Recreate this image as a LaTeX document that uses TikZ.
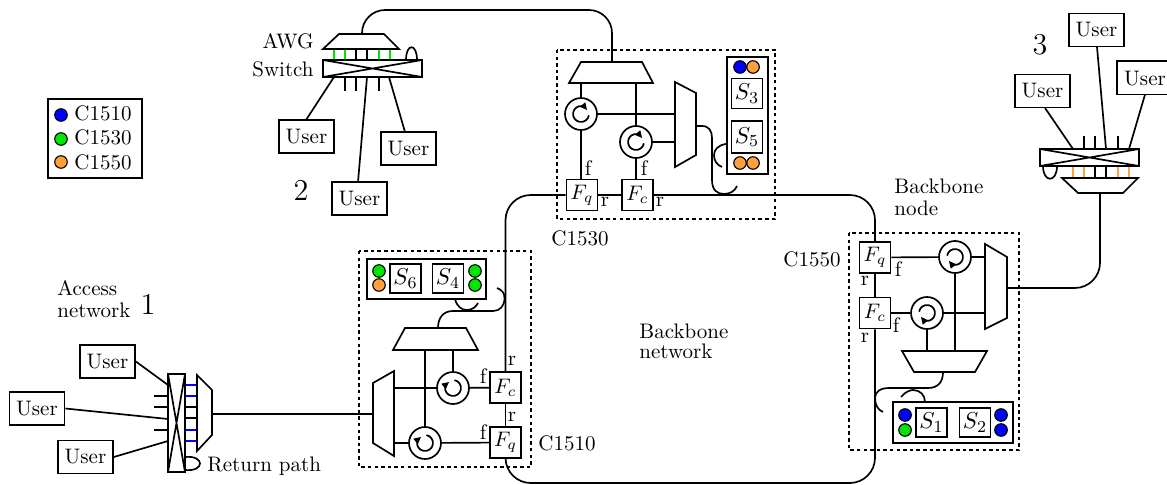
\documentclass[tikz,border=0pt]{standalone}
\newcommand{\uu}{0.47619pt}
\tikzset{
  x=\uu,y=-\uu,
  base/.style={line width=0.8pt,line join=miter},
  txt/.style={inner sep=0pt},
  bignum/.style={inner sep=0pt,font=\Large},
  userbox/.style={draw,base,fill=white,minimum width=55*\uu,minimum height=33*\uu,inner sep=0pt},
  fbox/.style={draw,base,fill=white,minimum width=31*\uu,minimum height=31*\uu,inner sep=0pt},
  sbox/.style={draw,base,fill=white,minimum width=31*\uu,minimum height=30*\uu,inner sep=0pt,font=\fontsize{11}{13}\selectfont},
  circnode/.style={draw,base,fill=white,circle,minimum size=32*\uu,inner sep=0pt},
  dot/.style={draw,line width=0.55pt,circle,minimum size=12.5*\uu,inner sep=0pt},
  dashbox/.style={draw,line width=0.7pt,dash pattern=on 1.65pt off 1.5pt},
  trap/.style={draw,base,fill=white},
  panel/.style={draw,base,fill=white},
  port/.style={line width=0.8pt},
  lab/.style={inner sep=0pt}
}
\definecolor{cblue}{RGB}{0,0,255}
\definecolor{cgreen}{RGB}{0,230,0}
\definecolor{corange}{RGB}{255,160,60}
\newcommand{\circu}[4]{%
  \node[circnode] (#1) at (#2,#3) {};
  \begin{scope}[shift={(#2,#3)},rotate=#4]
    \draw[base] (10:8) arc[start angle=10,end angle=280,radius=8];
    \fill (4.3,-11.7) -- (-1.3,-7.3) -- (6,-4) -- cycle;
  \end{scope}}
\begin{document}
\begin{tikzpicture}
\useasboundingbox (0,0) rectangle (1167,485);
% legend
\node[panel,minimum width=94*\uu,minimum height=79*\uu] (legend) at (95,138.5) {};
\node[dot,fill=cblue] (l1) at (61,115) {};
\node[dot,fill=cgreen] (l2) at (61,139) {};
\node[dot,fill=corange] (l3) at (61,162) {};
\node[txt,anchor=base west] (lt1) at (74,121) {C1510};
\node[txt,anchor=base west] (lt2) at (74,145) {C1530};
\node[txt,anchor=base west] (lt3) at (74,169) {C1550};
% dashed boxes
\draw[dashbox] (557,50) rectangle (775,219);
\draw[dashbox] (359,251) rectangle (531,467);
\draw[dashbox] (849,233) rectangle (1019,450);
% ===== access network
\node[txt,anchor=base west] (acc1) at (57,295) {Access};
\node[txt,anchor=base west] (acc2) at (57,317) {network};
\node[bignum,anchor=base] (n1) at (148,314) {1};
\node[userbox] (ua) at (107.5,361.5) {User};
\node[userbox] (ub) at (37,408.5) {User};
\node[userbox] (uc) at (85.5,457) {User};
\coordinate (asw1) at (168,385);
\coordinate (asw2) at (168,419);
\coordinate (asw3) at (168,441);
\draw[base] (ua.east) -- (asw1);
\draw[base] (ub.east) -- (asw2);
\draw[base] (uc.east) -- (asw3);
\foreach \yy in {396,407,430} \draw[port] (154,\yy) -- (168,\yy);
\foreach \yy/\cc in {385/cblue,396/cblue,407/black,418/black,430/cblue,441/cblue} \draw[port,\cc] (185,\yy) -- (197,\yy);
\draw[base] (185,457) .. controls (205,455) and (205,472) .. (185,470);
\draw[trap] (168,374) rectangle (185,472);
\draw[base] (168,374) -- (185,472) (185,374) -- (168,472);
\draw[trap] (197,375) -- (212,390) -- (212,435) -- (197,451) -- cycle;
\node[txt,anchor=base west] (ret) at (207,471) {Return path};
\coordinate (amux) at (212,414);
\coordinate (m10in) at (373,414);
\draw[base] (amux) -- (m10in);
% ===== node 2
\node[txt,anchor=base east] (awg) at (314,49) {AWG};
\node[txt,anchor=base east] (swt) at (314,77) {Switch};
\node[bignum,anchor=base] (n2) at (301,201) {2};
\node[userbox] (ud) at (306.5,136.5) {User};
\node[userbox] (ue) at (359.5,198.5) {User};
\node[userbox] (uf) at (408.5,148.5) {User};
\coordinate (s2a) at (334,77);
\coordinate (s2b) at (367,77);
\coordinate (s2c) at (389,77);
\coordinate (ufn) at (405,132);
\coordinate (udn) at (306,120);
\coordinate (uen) at (358,182);
\draw[base] (s2a) -- (udn);
\draw[base] (s2b) -- (uen);
\draw[base] (s2c) -- (ufn);
\foreach \xx/\cc in {334/cgreen,345/cgreen,356/black,367/black,379/cgreen,390/cgreen} \draw[port,\cc] (\xx,49) -- (\xx,60);
\foreach \xx in {345,356,379} \draw[port] (\xx,77) -- (\xx,91);
\draw[base] (406,60) .. controls (406,43) and (417,43) .. (417,60);
\draw[trap] (339,34) -- (384,34) -- (399,49) -- (323,49) -- cycle;
\draw[trap] (323,60) rectangle (422,77);
\draw[base] (323,60) -- (422,77) (422,60) -- (323,77);
\coordinate (awgout) at (362,34);
\coordinate (t30in) at (612,62);
\coordinate (fa) at (362,10);
\coordinate (fb) at (612,10);
\draw[base,rounded corners=11pt] (awgout) -- (fa) -- (fb) -- (t30in);
% ===== node 3
\node[bignum,anchor=base] (n3) at (1040,55) {3};
\node[userbox] (ug) at (1042.5,91) {User};
\node[userbox] (uh) at (1096.5,30) {User};
\draw[base,fill=white] (1169,61) -- (1117,61) -- (1117,94.5) -- (1169,94.5);
\node[txt] (ui) at (1145,79) {User};
\coordinate (s3a) at (1073,149);
\coordinate (s3b) at (1106,149);
\coordinate (s3c) at (1129,149);
\coordinate (uib) at (1145,94.5);
\coordinate (ugs) at (1045,108);
\coordinate (uhs) at (1097,47);
\draw[base] (ugs) -- (s3a);
\draw[base] (uhs) -- (s3b);
\draw[base] (uib) -- (s3c);
\foreach \xx/\cc in {1073/corange,1084/corange,1095/black,1106/black,1118/corange,1129/corange} \draw[port,\cc] (\xx,166) -- (\xx,178);
\foreach \xx in {1084,1095,1118} \draw[port] (\xx,136) -- (\xx,149);
\draw[base] (1043,166) .. controls (1043,183) and (1057,183) .. (1057,166);
\draw[trap] (1040,149) rectangle (1139,166);
\draw[base] (1040,149) -- (1139,166) (1139,149) -- (1040,166);
\draw[trap] (1062,178) -- (1138,178) -- (1123,193) -- (1078,193) -- cycle;
% ===== C1510
\node[fbox] (fc10) at (505.5,387.5) {$F_c$};
\node[fbox] (fq10) at (505.5,442.5) {$F_q$};
\circu{c10a}{453}{388}{90}
\circu{c10b}{425}{443}{90}
\draw[base] (c10a) -- (fc10);
\draw[base] (c10b) -- (fq10);
\draw[base] (fc10) -- (fq10);
\coordinate (m10a) at (394,388);
\coordinate (m10b) at (394,443);
\draw[base] (m10a) -- (c10a);
\draw[base] (m10b) -- (c10b);
\coordinate (t10a) at (425,350);
\coordinate (t10b) at (453,350);
\draw[base] (t10a) -- (c10b);
\draw[base] (t10b) -- (c10a);
\draw[trap] (405,328) -- (466,328) -- (478,350) -- (393,350) -- cycle;
\draw[trap] (373,383) -- (394,371) -- (394,456) -- (373,443) -- cycle;
\node[panel,minimum width=119*\uu,minimum height=40*\uu] (p10) at (426.5,279) {};
\node[dot,fill=cgreen] (d1) at (379,271) {};
\node[dot,fill=corange] (d2) at (379,285) {};
\node[sbox,minimum height=29*\uu] (s6) at (405.5,278.5) {$S_6$};
\node[sbox,minimum height=29*\uu] (s4) at (448,278.5) {$S_4$};
\node[dot,fill=cgreen] (d3) at (475,271) {};
\node[dot,fill=cgreen] (d4) at (475,285) {};
\draw[base] (455,299) .. controls (457,307) and (462,310) .. (467,310) .. controls (472,310) and (476,307) .. (478,303);
\draw[base] (497,288) .. controls (502,290) and (504.5,293) .. (504.5,298) .. controls (504.5,306) and (500,311) .. (493,311) -- (453,311) .. controls (443,311) and (438,318) .. (438,328);
\node[lab] (f10a) at (483,376) {f};
\node[lab] (r10a) at (512,361) {r};
\node[lab] (r10b) at (512,417) {r};
\node[lab] (f10b) at (483,432) {f};
\node[txt,anchor=base west] (t1510) at (538,450) {C1510};
% ===== C1530
\node[fbox] (fq30) at (582,195) {$F_q$};
\node[fbox] (fc30) at (637.5,195) {$F_c$};
\circu{c30a}{581}{114}{0}
\circu{c30b}{636}{142}{0}
\coordinate (t30a) at (581,83);
\coordinate (t30b) at (636,83);
\draw[base] (t30a) -- (c30a);
\draw[base] (t30b) -- (c30b);
\draw[base] (c30a) -- (c30a |- fq30.north);
\draw[base] (c30b) -- (c30b |- fc30.north);
\draw[base] (fq30) -- (fc30);
\coordinate (m30a) at (675,114);
\coordinate (m30b) at (675,142);
\draw[base] (c30a) -- (m30a);
\draw[base] (c30b) -- (m30b);
\draw[trap] (581,62) -- (642,62) -- (653,83) -- (569,83) -- cycle;
\draw[trap] (675,82) -- (696,93) -- (696,155) -- (675,167) -- cycle;
\node[panel,minimum width=41*\uu,minimum height=117*\uu] (p30) at (747.5,115.5) {};
\node[dot,fill=cblue] (d5) at (740,67) {};
\node[dot,fill=corange] (d6) at (753,67) {};
\node[sbox] (s3) at (747,93.5) {$S_3$};
\node[sbox,minimum height=32*\uu] (s5) at (747,137) {$S_5$};
\node[dot,fill=corange] (d7) at (740,163) {};
\node[dot,fill=corange] (d8) at (753,163) {};
\draw[base] (696,126) -- (702,126) .. controls (709,126) and (712,131) .. (712,138) -- (712,180) .. controls (712,190) and (717,194) .. (724,194) .. controls (730,194) and (735,191) .. (737,186);
\draw[base] (726,144) .. controls (718,145) and (714,150) .. (714,155) .. controls (714,161) and (717,165) .. (722,167);
\node[lab] (f30a) at (588,168) {f};
\node[lab] (f30b) at (644,168) {f};
\node[lab] (r30a) at (605,202) {r};
\node[lab] (r30b) at (660,202) {r};
\node[txt,anchor=base west] (t1530) at (551,245) {C1530};
% ===== backbone
\coordinate (ca) at (505.5,195);
\coordinate (cb) at (875,195);
\coordinate (cc) at (505.5,483);
\coordinate (cd) at (875,483);
\node[fbox] (fq50) at (875,257.5) {$F_q$};
\node[fbox] (fc50) at (875,313) {$F_c$};
\draw[base,rounded corners=12pt] (fq30.west) -- (ca) -- (fc10.north);
\draw[base,rounded corners=12pt] (fc30.east) -- (cb) -- (fq50.north);
\draw[base,rounded corners=12pt] (fq10.south) -- (cc) -- (cd) -- (fc50.south);
\draw[base] (fq50) -- (fc50);
\node[txt,anchor=base west] (bb1) at (639,338) {Backbone};
\node[txt,anchor=base west] (bb2) at (639,358) {network};
\node[txt,anchor=base west] (bn1) at (894,194) {Backbone};
\node[txt,anchor=base west] (bn2) at (894,215) {node};
% ===== C1550
\node[txt,anchor=base west] (t1550) at (783,266) {C1550};
\circu{c50a}{955}{257}{180}
\circu{c50b}{927}{313}{180}
\draw[base] (fq50) -- (c50a);
\draw[base] (fc50) -- (c50b);
\coordinate (m50a) at (985,257);
\coordinate (m50b) at (985,313);
\draw[base] (c50a) -- (m50a);
\draw[base] (c50b) -- (m50b);
\coordinate (t50a) at (955,351);
\coordinate (t50b) at (927,351);
\draw[base] (c50a) -- (t50a);
\draw[base] (c50b) -- (t50b);
\draw[trap] (985,244) -- (1007,257) -- (1007,318) -- (985,329) -- cycle;
\draw[trap] (902,351) -- (987,351) -- (975,372) -- (914,372) -- cycle;
\node[panel,minimum width=120*\uu,minimum height=41*\uu] (p50) at (953,422.5) {};
\node[dot,fill=cblue] (d9) at (905,415) {};
\node[dot,fill=cgreen] (d10) at (905,430) {};
\node[sbox,minimum height=29*\uu] (s1) at (931.5,422.5) {$S_1$};
\node[sbox,minimum height=29*\uu] (s2) at (975,422.5) {$S_2$};
\node[dot,fill=cblue] (d11) at (1001,415) {};
\node[dot,fill=cblue] (d12) at (1001,430) {};
\draw[base] (943,372) .. controls (943,382) and (938,388) .. (928,388) -- (889,388) .. controls (880,388) and (875,392) .. (875,398) .. controls (875,405) and (878,410) .. (883,412);
\draw[base] (901,397) .. controls (905,392) and (910,390) .. (913,390) .. controls (920,390) and (925,395) .. (925,402);
\node[lab] (f50a) at (898,269) {f};
\node[lab] (r50a) at (865,281) {r};
\node[lab] (f50b) at (896,325) {f};
\node[lab] (r50b) at (865,338) {r};
% output to node 3
\coordinate (o50) at (1007,288);
\coordinate (oc) at (1100,288);
\coordinate (t3out) at (1100,193);
\draw[base,rounded corners=12pt] (o50) -- (oc) -- (t3out);
\end{tikzpicture}
\end{document}
